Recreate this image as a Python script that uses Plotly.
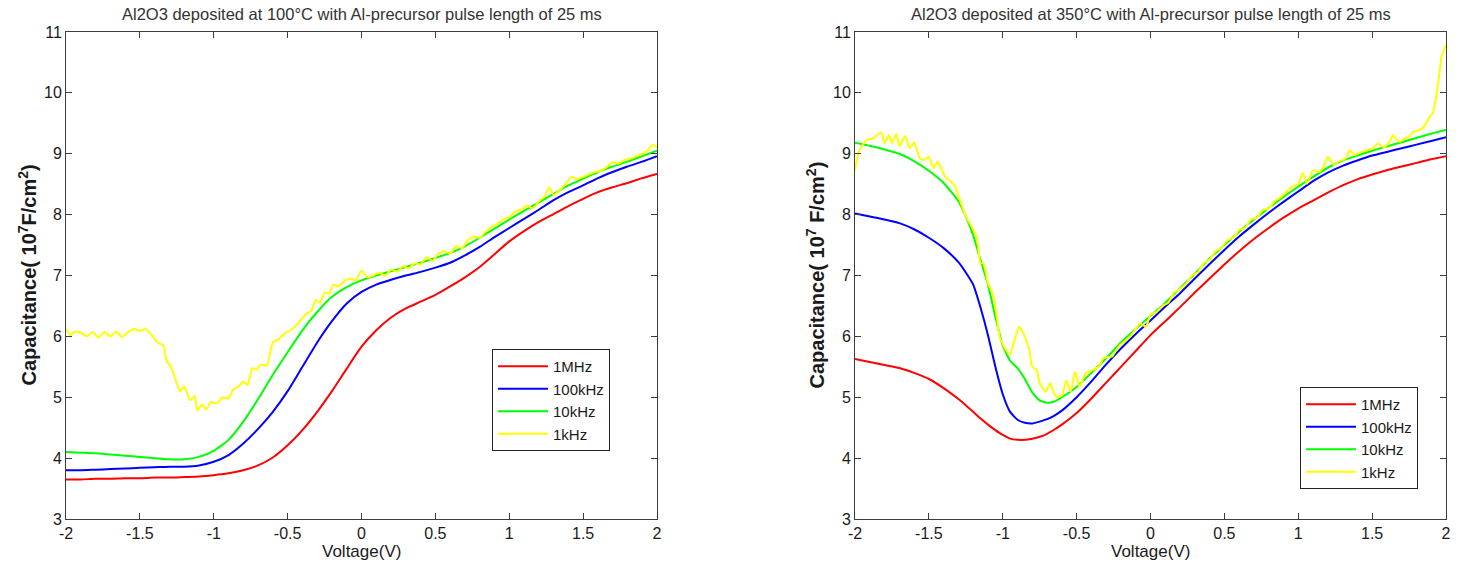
import plotly.graph_objects as go

# ---------------- data ----------------
v_grid = [round(-2.0 + 0.1 * i, 1) for i in range(41)]

# Left panel: 100 C
left_1MHz = [3.65, 3.65, 3.66, 3.66, 3.67, 3.67, 3.68, 3.68, 3.69, 3.70, 3.72,
             3.75, 3.80, 3.88, 4.01, 4.21, 4.46, 4.76, 5.10, 5.47, 5.83,
             6.10, 6.31, 6.46, 6.57, 6.68, 6.82, 6.97, 7.14, 7.35, 7.56,
             7.73, 7.88, 8.01, 8.14, 8.26, 8.37, 8.45, 8.52, 8.60, 8.67]
left_100kHz = [3.80, 3.80, 3.81, 3.82, 3.83, 3.84, 3.85, 3.86, 3.86, 3.88, 3.94,
               4.05, 4.24, 4.48, 4.76, 5.10, 5.50, 5.90, 6.25, 6.54, 6.73,
               6.85, 6.93, 7.00, 7.06, 7.13, 7.21, 7.33, 7.47, 7.63, 7.78,
               7.93, 8.08, 8.24, 8.37, 8.48, 8.60, 8.70, 8.79, 8.87, 8.96]
left_10kHz = [4.10, 4.09, 4.08, 4.06, 4.04, 4.02, 4.00, 3.98, 3.98, 4.02, 4.12,
              4.30, 4.60, 4.97, 5.37, 5.74, 6.10, 6.40, 6.65, 6.81, 6.92,
              7.00, 7.07, 7.14, 7.21, 7.29, 7.37, 7.48, 7.62, 7.77, 7.92,
              8.06, 8.20, 8.34, 8.48, 8.59, 8.70, 8.79, 8.87, 8.96, 9.05]

left_1kHz_v = [-2.00, -1.97, -1.94, -1.90, -1.86, -1.82, -1.78, -1.74, -1.70, -1.66,
               -1.62, -1.58, -1.54, -1.50, -1.46, -1.42, -1.38, -1.34, -1.32, -1.29,
               -1.26, -1.23, -1.20, -1.16, -1.13, -1.11, -1.08, -1.05, -1.02, -0.98,
               -0.94, -0.90, -0.87, -0.83, -0.80, -0.77, -0.74, -0.71, -0.68, -0.64,
               -0.60, -0.56, -0.52, -0.48, -0.44, -0.40, -0.37, -0.34, -0.31, -0.28,
               -0.25, -0.22, -0.19, -0.16, -0.12, -0.08, -0.04, 0.00, 0.04, 0.08,
               0.12, 0.16, 0.20, 0.24, 0.28, 0.32, 0.36, 0.40, 0.44, 0.48,
               0.52, 0.56, 0.60, 0.64, 0.68, 0.72, 0.76, 0.80, 0.84, 0.88,
               0.92, 0.96, 1.00, 1.04, 1.08, 1.12, 1.16, 1.20, 1.24, 1.27,
               1.30, 1.34, 1.38, 1.42, 1.46, 1.50, 1.54, 1.58, 1.62, 1.66,
               1.70, 1.74, 1.78, 1.82, 1.86, 1.90, 1.94, 1.97, 2.00]
left_1kHz = [6.12, 6.02, 6.08, 6.06, 6.00, 6.07, 5.98, 6.07, 6.00, 6.08,
             5.99, 6.07, 6.12, 6.09, 6.12, 6.02, 5.90, 5.85, 5.60, 5.50,
             5.30, 5.10, 5.18, 4.95, 5.02, 4.78, 4.88, 4.80, 4.92, 4.90,
             5.00, 4.98, 5.12, 5.18, 5.26, 5.20, 5.48, 5.45, 5.54, 5.52,
             5.90, 5.95, 6.05, 6.10, 6.18, 6.30, 6.38, 6.42, 6.60, 6.55,
             6.72, 6.70, 6.85, 6.82, 6.90, 6.95, 6.92, 7.08, 6.97, 7.00,
             7.05, 6.99, 7.10, 7.06, 7.15, 7.12, 7.20, 7.18, 7.30, 7.24,
             7.36, 7.40, 7.36, 7.48, 7.45, 7.58, 7.64, 7.62, 7.72, 7.80,
             7.85, 7.92, 7.96, 8.05, 8.08, 8.15, 8.10, 8.22, 8.30, 8.45,
             8.32, 8.40, 8.50, 8.62, 8.58, 8.62, 8.66, 8.70, 8.72, 8.78,
             8.86, 8.84, 8.90, 8.92, 8.96, 9.00, 9.06, 9.15, 9.10]

# Right panel: 350 C
r_grid = [-2.0, -1.9, -1.8, -1.7, -1.6, -1.5, -1.4, -1.3, -1.25, -1.2, -1.15,
          -1.1, -1.05, -1.0, -0.95, -0.9, -0.85, -0.8, -0.75, -0.7, -0.65,
          -0.6, -0.5, -0.4, -0.3, -0.2, -0.1, 0.0, 0.1, 0.2, 0.3,
          0.4, 0.5, 0.6, 0.7, 0.8, 0.9, 1.0, 1.1, 1.2, 1.3,
          1.4, 1.5, 1.6, 1.7, 1.8, 1.9, 2.0]
right_1MHz = [5.63, 5.58, 5.53, 5.48, 5.40, 5.30, 5.15, 4.97, 4.87, 4.76, 4.65,
              4.55, 4.46, 4.38, 4.32, 4.30, 4.30, 4.32, 4.35, 4.40, 4.47,
              4.55, 4.74, 4.98, 5.24, 5.50, 5.76, 6.02, 6.25, 6.48, 6.72,
              6.95, 7.18, 7.40, 7.60, 7.78, 7.95, 8.10, 8.23, 8.36, 8.48,
              8.58, 8.66, 8.73, 8.79, 8.85, 8.91, 8.96]
right_100kHz = [8.02, 7.97, 7.92, 7.86, 7.76, 7.62, 7.45, 7.22, 7.05, 6.85, 6.47,
                6.02, 5.50, 5.05, 4.76, 4.63, 4.58, 4.57, 4.60, 4.64, 4.70,
                4.78, 5.00, 5.26, 5.54, 5.80, 6.04, 6.26, 6.49, 6.71, 6.95,
                7.19, 7.42, 7.64, 7.84, 8.03, 8.21, 8.38, 8.55, 8.69, 8.80,
                8.89, 8.97, 9.03, 9.09, 9.15, 9.21, 9.27]
right_10kHz = [9.18, 9.13, 9.07, 9.00, 8.88, 8.72, 8.52, 8.22, 7.97, 7.66, 7.25,
               6.85, 6.32, 5.85, 5.60, 5.48, 5.30, 5.08, 4.95, 4.91, 4.93,
               5.00, 5.17, 5.40, 5.64, 5.90, 6.12, 6.34, 6.55, 6.79, 7.03,
               7.28, 7.50, 7.72, 7.92, 8.11, 8.29, 8.46, 8.62, 8.77, 8.89,
               8.97, 9.05, 9.12, 9.19, 9.26, 9.33, 9.39]

right_1kHz_v = [-2.00, -1.97, -1.92, -1.88, -1.85, -1.82, -1.80, -1.77, -1.75, -1.72,
                -1.70, -1.66, -1.63, -1.60, -1.56, -1.53, -1.50, -1.47, -1.44, -1.39,
                -1.35, -1.32, -1.29, -1.25, -1.21, -1.18, -1.17, -1.15, -1.13, -1.10,
                -1.07, -1.05, -1.02, -0.98, -0.95, -0.92, -0.89, -0.86, -0.82, -0.80,
                -0.77, -0.75, -0.71, -0.68, -0.64, -0.60, -0.57, -0.54, -0.51, -0.48,
                -0.44, -0.39, -0.35, -0.32, -0.26, -0.22, -0.19, -0.14, -0.10, -0.07,
                -0.03, 0.00, 0.04, 0.08, 0.12, 0.16, 0.20, 0.24, 0.28, 0.32,
                0.36, 0.40, 0.44, 0.48, 0.52, 0.56, 0.60, 0.64, 0.68, 0.72,
                0.76, 0.80, 0.84, 0.88, 0.92, 0.96, 1.00, 1.03, 1.06, 1.10,
                1.14, 1.17, 1.20, 1.24, 1.28, 1.32, 1.35, 1.38, 1.42, 1.46,
                1.50, 1.54, 1.58, 1.62, 1.64, 1.67, 1.69, 1.72, 1.75, 1.78,
                1.82, 1.85, 1.89, 1.91, 1.93, 1.95, 1.97, 2.00]
right_1kHz = [8.73, 9.06, 9.23, 9.25, 9.31, 9.35, 9.17, 9.31, 9.17, 9.33,
              9.12, 9.29, 9.09, 9.19, 8.92, 8.90, 8.95, 8.76, 8.87, 8.62,
              8.54, 8.45, 8.24, 7.97, 7.80, 7.65, 7.53, 7.20, 7.20, 6.87,
              6.72, 6.49, 5.99, 5.78, 5.71, 5.94, 6.16, 6.05, 5.78, 5.50,
              5.45, 5.23, 5.09, 5.23, 5.01, 5.03, 5.28, 5.09, 5.42, 5.17,
              5.39, 5.45, 5.50, 5.64, 5.67, 5.82, 5.89, 5.99, 6.12, 6.21,
              6.16, 6.36, 6.40, 6.50, 6.55, 6.72, 6.78, 6.86, 7.00, 7.05,
              7.20, 7.26, 7.40, 7.45, 7.58, 7.62, 7.75, 7.78, 7.92, 7.95,
              8.08, 8.10, 8.22, 8.28, 8.38, 8.46, 8.50, 8.68, 8.51, 8.73,
              8.70, 8.78, 8.95, 8.82, 8.88, 8.92, 9.06, 8.98, 9.02, 9.06,
              9.08, 9.17, 9.10, 9.20, 9.31, 9.22, 9.20, 9.25, 9.28, 9.36,
              9.39, 9.44, 9.61, 9.66, 9.88, 10.21, 10.59, 10.79]

series_names = ["1MHz", "100kHz", "10kHz", "1kHz"]
series_colors = ["#ff0000", "#0000ff", "#00ff00", "#ffff00"]

x_tickvals = [-2, -1.5, -1, -0.5, 0, 0.5, 1, 1.5, 2]
x_ticktext = ["-2", "-1.5", "-1", "-0.5", "0", "0.5", "1", "1.5", "2"]
y_tickvals = [3, 4, 5, 6, 7, 8, 9, 10, 11]
y_ticktext = ["3", "4", "5", "6", "7", "8", "9", "10", "11"]

titles = ["Al2O3 deposited at 100°C with Al-precursor pulse length of 25 ms",
          "Al2O3 deposited at 350°C with Al-precursor pulse length of 25 ms"]
ytitles = ["Capacitance( 10<sup>7</sup>F/cm<sup>2</sup>)",
           "Capacitance( 10<sup>7</sup> F/cm<sup>2</sup>)"]
xtitle = "Voltage(V)"

# ---------------- figure ----------------
FONT = "Liberation Sans, Arial, sans-serif"
W, H = 1462, 567
ML, MR, MT, MB = 66, 16, 32, 48
PW = W - ML - MR
PH = H - MT - MB

fig = go.Figure()

left_sets = [(v_grid, left_1MHz), (v_grid, left_100kHz), (v_grid, left_10kHz),
             (left_1kHz_v, left_1kHz)]
right_sets = [(r_grid, right_1MHz), (r_grid, right_100kHz), (r_grid, right_10kHz),
              (right_1kHz_v, right_1kHz)]

for (xs, ys), name, col in zip(left_sets, series_names, series_colors):
    fig.add_trace(go.Scatter(x=xs, y=ys, mode="lines", name=name,
                             line=dict(color=col, width=2, shape="spline", smoothing=0.5),
                             xaxis="x", yaxis="y", legend="legend"))
for (xs, ys), name, col in zip(right_sets, series_names, series_colors):
    fig.add_trace(go.Scatter(x=xs, y=ys, mode="lines", name=name,
                             line=dict(color=col, width=2, shape="spline", smoothing=0.5),
                             xaxis="x2", yaxis="y2", legend="legend2"))

d1 = [0, (657 - ML) / PW]
d2 = [(855 - ML) / PW, 1]

axis_common = dict(showline=True, linecolor="#3c3c3c", linewidth=1, mirror="ticks",
                   ticks="inside", ticklen=6, tickcolor="#3c3c3c", showgrid=False,
                   zeroline=False, tickfont=dict(family=FONT, size=16, color="#1a1a1a"))

legend_common = dict(xanchor="left", yanchor="top", bgcolor="white",
                     bordercolor="#222222", borderwidth=1,
                     font=dict(family=FONT, size=15, color="#1a1a1a"),
                     itemwidth=50, tracegroupgap=0)

fig.update_layout(
    width=W, height=H,
    margin=dict(l=ML, r=MR, t=MT, b=MB),
    paper_bgcolor="white", plot_bgcolor="white",
    font=dict(family=FONT, size=16, color="#1a1a1a"),
    xaxis=dict(domain=d1, range=[-2, 2], tickvals=x_tickvals, ticktext=x_ticktext,
               anchor="y", **axis_common),
    yaxis=dict(domain=[0, 1], range=[3, 11], tickvals=y_tickvals, ticktext=y_ticktext,
               anchor="x", **axis_common),
    xaxis2=dict(domain=d2, range=[-2, 2], tickvals=x_tickvals, ticktext=x_ticktext,
                anchor="y2", **axis_common),
    yaxis2=dict(domain=[0, 1], range=[3, 11], tickvals=y_tickvals, ticktext=y_ticktext,
                anchor="x2", **axis_common),
    legend=dict(x=(492 - ML) / PW, y=(519 - 349) / PH, **legend_common),
    legend2=dict(x=(1300 - ML) / PW, y=(519 - 387) / PH, **legend_common),
    showlegend=True,
)

centers = [(d1[0] + d1[1]) / 2, (d2[0] + d2[1]) / 2]
ytitle_x = [(27 - ML) / PW, (815 - ML) / PW]
for i in range(2):
    fig.add_annotation(text=titles[i], xref="paper", yref="paper", x=centers[i],
                       y=(519 - 14) / PH, xanchor="center", yanchor="middle",
                       showarrow=False, font=dict(family=FONT, size=16.5, color="#333333"))
    fig.add_annotation(text=xtitle, xref="paper", yref="paper", x=centers[i],
                       y=(519 - 551) / PH, xanchor="center", yanchor="middle",
                       showarrow=False, font=dict(family=FONT, size=17, color="#1a1a1a"))
    fig.add_annotation(text="<b>" + ytitles[i] + "</b>", xref="paper", yref="paper",
                       x=ytitle_x[i], y=0.5, xanchor="center", yanchor="middle",
                       textangle=-90, showarrow=False,
                       font=dict(family=FONT, size=20, color="#1a1a1a"))

fig.write_html("out.html")
